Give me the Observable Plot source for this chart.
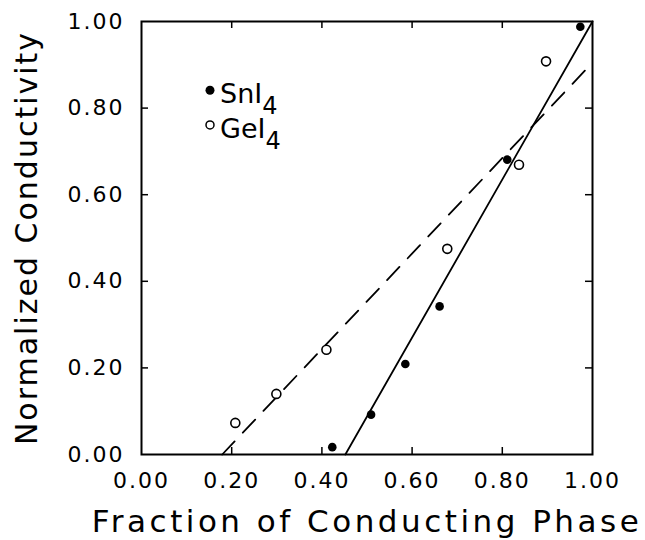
<!DOCTYPE html>
<html><head><meta charset="utf-8">
<script src="https://cdn.jsdelivr.net/npm/d3@7"></script>
<script src="https://cdn.jsdelivr.net/npm/@observablehq/plot@0.6"></script>
<style>body{margin:0;background:#fff} svg{display:block}</style>
</head><body><div id="chart"></div>
<script>
// ---- data ----
const snFraction     = [0.423, 0.509, 0.585, 0.661, 0.811, 0.973];
const snConductivity = [0.017, 0.092, 0.209, 0.342, 0.681, 0.988];
const geFraction     = [0.208, 0.299, 0.410, 0.678, 0.837, 0.897];
const geConductivity = [0.073, 0.140, 0.242, 0.475, 0.669, 0.908];
const snFitFraction     = [0.452, 1.0];
const snFitConductivity = [0.0, 1.0];
const geFitFraction     = [0.179, 1.0];
const geFitConductivity = [0.0, 0.905];
const tickValues = [0, 0.2, 0.4, 0.6, 0.8, 1.0];
const innerTicks = [0.2, 0.4, 0.6, 0.8];
const seriesNames = ["SnI", "GeI"];
const seriesSub = ["4", "4"];
const xTitle = "Fraction of Conducting Phase";
const yTitle = "Normalized Conductivity";

const zip = (xs, ys) => xs.map((x, i) => ({x, y: ys[i]}));
const sn = zip(snFraction, snConductivity);
const ge = zip(geFraction, geConductivity);
const snFit = zip(snFitFraction, snFitConductivity);
const geFit = zip(geFitFraction, geFitConductivity);

const font = "'DejaVu Sans', sans-serif";
const fmt = d3.format(".2f");
const W = 645, H = 540, mL = 141, mR = 53, mT = 21, mB = 86;
const pw = W - mL - mR, ph = H - mT - mB, tk = 7;

const chart = Plot.plot({
  width: W, height: H,
  marginLeft: mL, marginRight: mR, marginTop: mT, marginBottom: mB,
  style: {fontFamily: font, background: "white", color: "black", overflow: "visible"},
  x: {domain: [0, 1], axis: null},
  y: {domain: [0, 1], axis: null},
  marks: [
    // tick labels
    Plot.text(tickValues, {x: d => d, text: d => fmt(d), frameAnchor: "bottom", textAnchor: "middle", lineAnchor: "middle", dy: 26, fontSize: 22, fill: "black"}),
    Plot.text(tickValues, {y: d => d, text: d => fmt(d), frameAnchor: "left", textAnchor: "end", lineAnchor: "middle", dx: -17, fontSize: 22, fill: "black"}),
    // inward ticks on all four sides
    Plot.tickX(innerTicks, {x: d => d, insetTop: ph - tk, stroke: "black", strokeWidth: 1.5}),
    Plot.tickX(innerTicks, {x: d => d, insetBottom: ph - tk, stroke: "black", strokeWidth: 1.5}),
    Plot.tickY(innerTicks, {y: d => d, insetRight: pw - tk, stroke: "black", strokeWidth: 1.5}),
    Plot.tickY(innerTicks, {y: d => d, insetLeft: pw - tk, stroke: "black", strokeWidth: 1.5}),
    Plot.frame({stroke: "black", strokeWidth: 2}),
    Plot.line(snFit, {x: "x", y: "y", stroke: "black", strokeWidth: 1.8}),
    Plot.line(geFit, {x: "x", y: "y", stroke: "black", strokeWidth: 1.8, strokeDasharray: "18,12"}),
    Plot.dot(sn, {x: "x", y: "y", r: 4.3, fill: "black", stroke: "none"}),
    Plot.dot(ge, {x: "x", y: "y", r: 4.5, fill: "white", stroke: "black", strokeWidth: 1.6}),
    // axis titles
    Plot.text([xTitle], {text: d => d, frameAnchor: "bottom", textAnchor: "middle", lineAnchor: "middle", dy: 68, fontSize: 31, fill: "black"}),
    Plot.text([yTitle], {text: d => d, frameAnchor: "left", textAnchor: "middle", lineAnchor: "middle", rotate: -90, dx: -114, fontSize: 30, fill: "black"})
  ]
});
document.getElementById("chart").appendChild(chart);

const svg = d3.select(chart);
// letter spacing to match the wide lettering of the reference
const spacing = ["2px", "2px", "3.5px", "2px"];
svg.selectAll('g[aria-label="text"]').nodes().forEach((n, i) => {
  if (spacing[i]) d3.select(n).style("letter-spacing", spacing[i]);
});

// ---- legend (positioned through the chart's own scales) ----
const sx = chart.scale("x"), sy = chart.scale("y");
const legendX = sx.apply(0.153);
const legendY = [sy.apply(0.84), sy.apply(0.76)];
const g = svg.append("g").attr("font-family", font).attr("fill", "black").attr("text-anchor", "start");
seriesNames.forEach((name, i) => {
  g.append("circle").attr("cx", legendX).attr("cy", legendY[i]).attr("r", i === 0 ? 4.5 : 4)
    .attr("fill", i === 0 ? "black" : "white").attr("stroke", "black").attr("stroke-width", i === 0 ? 0 : 1.5);
  const t = g.append("text").attr("x", legendX + 10).attr("y", legendY[i] + 13).attr("font-size", 27);
  t.append("tspan").text(name);
  t.append("tspan").attr("font-size", 24).attr("dy", 11).text(seriesSub[i]);
});
</script>
</body></html>
